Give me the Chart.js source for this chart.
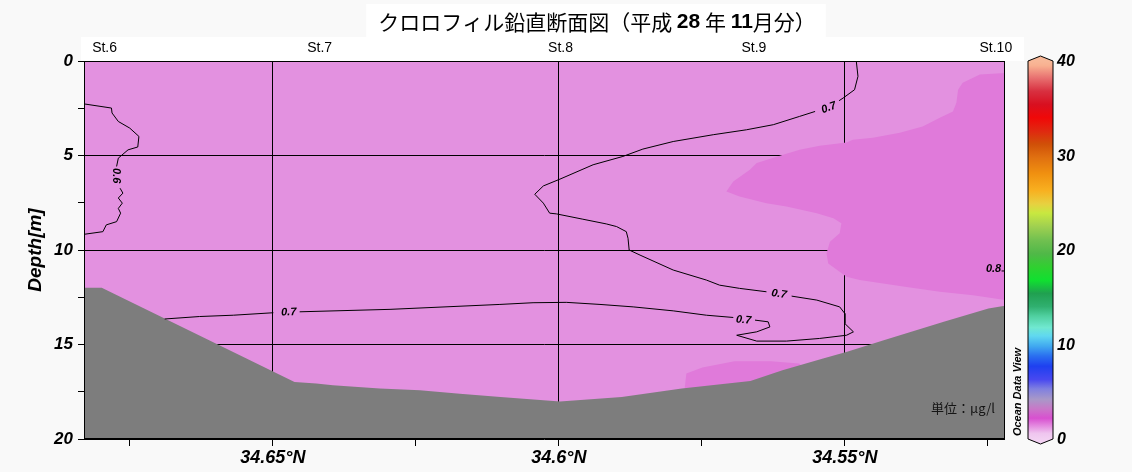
<!DOCTYPE html>
<html>
<head>
<meta charset="utf-8">
<script src="https://cdn.jsdelivr.net/npm/chart.js@4.4.1/dist/chart.umd.min.js"></script>
<style>
  html, body { margin: 0; padding: 0; background: #f9f9f9; }
</style>
</head>
<body>
<canvas id="chl" width="1132" height="472"></canvas>
<script>
// chlorophyll section St.6 - St.10, latitude vs depth (values in ug/l)
const latMin = 34.522, latMax = 34.683;
const latTicks = [34.525, 34.55, 34.575, 34.6, 34.625, 34.65, 34.675];
const depthTicks = [0, 2.5, 5, 7.5, 10, 12.5, 15, 17.5, 20];
const stationNames = ['St.6', 'St.7', 'St.8', 'St.9', 'St.10'];
const stationLats = [34.6794, 34.6418, 34.5997, 34.5659, 34.5236];

// sea floor [lat, depth]
const bottomLine = [[34.6830, 12.0], [34.6799, 12.0], [34.6462, 16.98], [34.6424, 17.07], [34.6395, 17.15],
  [34.6313, 17.33], [34.6243, 17.42], [34.6173, 17.60], [34.6102, 17.78], [34.5998, 18.01], [34.5890, 17.78],
  [34.5785, 17.33], [34.5665, 16.93], [34.5609, 16.36], [34.5538, 15.74], [34.5496, 15.39], [34.5432, 14.77],
  [34.5327, 13.80], [34.5249, 13.09], [34.5220, 12.95]];

// areas above 0.8
const high08a = [[34.5220, 0.63], [34.5264, 0.72], [34.5294, 1.15], [34.5302, 1.52], [34.5305, 2.21], [34.5311, 2.67],
  [34.5334, 3.00], [34.5364, 3.46], [34.5404, 3.80], [34.5451, 4.06], [34.5486, 4.17], [34.5497, 4.31], [34.5544, 4.49],
  [34.5579, 4.70], [34.5608, 4.96], [34.5654, 5.40], [34.5666, 5.76], [34.5695, 6.38], [34.5707, 6.91], [34.5684, 7.17],
  [34.5637, 7.52], [34.5602, 7.70], [34.5549, 8.05], [34.5520, 8.32], [34.5506, 8.58], [34.5509, 9.11], [34.5526, 9.56],
  [34.5532, 10.17], [34.5529, 10.71], [34.5497, 11.42], [34.5474, 11.59], [34.5392, 11.96], [34.5334, 12.21],
  [34.5276, 12.39], [34.5220, 12.65]];
const high08b = [[34.5781, 17.6], [34.5777, 16.54], [34.5749, 16.22], [34.5693, 15.89], [34.5629, 15.89],
  [34.5580, 16.01], [34.5570, 16.3], [34.5579, 17.5]];

// contour lines
const c06a = [[34.6830, 2.27], [34.6782, 2.49], [34.6781, 2.75], [34.6770, 3.20], [34.6750, 3.55], [34.6734, 3.99],
  [34.6736, 4.55], [34.6753, 4.70], [34.6770, 5.14], [34.6773, 5.58]];
const c06b = [[34.6767, 6.73], [34.6762, 6.99], [34.6770, 7.25], [34.6763, 7.52], [34.6770, 7.80], [34.6766, 8.05],
  [34.6773, 8.50], [34.6791, 8.67], [34.6797, 9.03], [34.6830, 9.17]];
const c07a = [[34.5480, 0], [34.5477, 0.81], [34.5483, 1.52], [34.5503, 1.96], [34.5510, 2.10]];
const c07b = [[34.5552, 2.67], [34.5579, 2.93], [34.5625, 3.37], [34.5672, 3.64], [34.5730, 3.90], [34.5800, 4.26],
  [34.5853, 4.66], [34.5888, 5.05], [34.5940, 5.49], [34.5998, 6.25], [34.6027, 6.61], [34.6042, 7.05], [34.6027, 7.52],
  [34.6016, 8.05], [34.6004, 8.09], [34.5958, 8.37], [34.5917, 8.62], [34.5899, 8.76], [34.5882, 9.03], [34.5879, 9.38],
  [34.5877, 10.0], [34.5858, 10.27], [34.5800, 11.06], [34.5742, 11.59], [34.5719, 11.86], [34.5684, 12.03],
  [34.5637, 12.21]];
const c07c = [[34.5593, 12.44], [34.5549, 12.65], [34.5509, 13.01], [34.5500, 13.36], [34.5500, 13.89], [34.5485, 14.33],
  [34.5497, 14.51], [34.5544, 14.68], [34.5602, 14.82], [34.5654, 14.82], [34.5689, 14.51], [34.5654, 14.33],
  [34.5631, 14.07], [34.5634, 13.80], [34.5657, 13.71]];
const c07d = [[34.5695, 13.57], [34.5742, 13.45], [34.5800, 13.22], [34.5870, 13.01], [34.5928, 12.88], [34.5987, 12.77],
  [34.6045, 12.79], [34.6103, 12.88], [34.6295, 13.14], [34.6453, 13.27]];
const c07e = [[34.6499, 13.32], [34.6569, 13.45], [34.6628, 13.52], [34.6689, 13.65]];
const c08a = [[34.5226, 11.11], [34.5220, 11.11]];

const labelText = ['0.7', '0.7', '0.7', '0.7', '0.6', '0.8'];
const labelLat = [34.5528, 34.5615, 34.5677, 34.6472, 34.6774, 34.5240];
const labelDepth = [2.47, 12.33, 13.71, 13.29, 6.07, 11.0];
const labelAngle = [-20, 8, 4, -2, 90, 0];

// colour bar 0 - 40
const cbValues = [0, 0.6, 1.4, 2.2, 3.2, 4.2, 5.3, 6.3, 7.7, 8.8, 9.8, 10.9, 11.8, 13.0, 14.0, 15.4, 16.8, 18.2, 19.6,
  21.0, 22.5, 23.9, 24.9, 26.3, 28.1, 29.8, 31.2, 32.6, 34.0, 35.4, 36.8, 38.2, 39.5, 40];
const cbColors = ['#f2d0f2', '#efc5ef', '#e48ae0', '#d850d0', '#c878c8', '#a898c8', '#8080e0', '#4848f0', '#1e40f0',
  '#2a70f0', '#40a8f0', '#60d8f0', '#70e8d0', '#50d0a0', '#30b070', '#20a050', '#10e030', '#30d030', '#50b848',
  '#70c050', '#a0d050', '#c8e840', '#e8d040', '#f8b020', '#f09010', '#e07010', '#d05008', '#e02810', '#f00808',
  '#d81020', '#d83040', '#e87070', '#f8b090', '#f8b898'];
const cbTicks = [0, 10, 20, 30, 40];

const fieldColor = '#e391e0';
const highColor = '#e07ada';
const groundColor = '#7d7d7d';
const latin = '"Liberation Sans", Arial, sans-serif';
const jp = '"Noto Sans CJK JP", sans-serif';

function pts(arr) { return arr.map(p => ({ x: p[0], y: p[1] })); }
function isMajorLat(v) { return Math.abs(v * 20 - Math.round(v * 20)) < 1e-6; }

const contours = [c06a, c06b, c07a, c07b, c07c, c07d, c07e, c08a];
const datasets = contours.map(c => ({
  data: pts(c), borderColor: '#000', borderWidth: 1, pointRadius: 0, fill: false, order: 1
}));
datasets.push({ data: pts(bottomLine), borderColor: 'rgba(0,0,0,0)', borderWidth: 0, backgroundColor: groundColor,
  pointRadius: 0, fill: { value: 20 }, order: 2 });
datasets.push({ data: pts(high08a), borderColor: 'rgba(0,0,0,0)', borderWidth: 0, backgroundColor: highColor,
  pointRadius: 0, fill: 'shape', order: 3 });
datasets.push({ data: pts(high08b), borderColor: 'rgba(0,0,0,0)', borderWidth: 0, backgroundColor: highColor,
  pointRadius: 0, fill: 'shape', order: 3 });

const decor = {
  id: 'decor',
  beforeDraw(chart) {
    const { ctx, chartArea: a } = chart;
    ctx.save();
    ctx.fillStyle = '#f9f9f9';
    ctx.fillRect(0, 0, chart.width, chart.height);
    ctx.fillStyle = '#ffffff';
    ctx.fillRect(a.left - 3, 37, a.right - a.left + 22, a.top - 37);
    ctx.fillStyle = fieldColor;
    ctx.fillRect(a.left, a.top, a.right - a.left, a.bottom - a.top);
    ctx.restore();
  },
  afterDraw(chart) {
    const { ctx, chartArea: a } = chart;
    const sx = chart.scales.x, sy = chart.scales.y;
    ctx.save();

    // frame
    ctx.strokeStyle = '#000';
    ctx.lineWidth = 1;
    ctx.strokeRect(Math.round(a.left) + 0.5, Math.round(a.top) + 0.5,
      Math.round(a.right - a.left) - 1, Math.round(a.bottom - a.top) - 1);

    // contour labels
    ctx.fillStyle = '#000';
    ctx.font = 'italic bold 11px ' + latin;
    ctx.textAlign = 'center';
    ctx.textBaseline = 'middle';
    labelText.forEach((t, i) => {
      ctx.save();
      ctx.translate(sx.getPixelForValue(labelLat[i]), sy.getPixelForValue(labelDepth[i]));
      ctx.rotate(labelAngle[i] * Math.PI / 180);
      ctx.fillText(t, 0, 0);
      ctx.restore();
    });

    // title
    const parts = [['クロロフィル鉛直断面図（平成 ', '21px ' + jp], ['28', 'bold 21px ' + latin],
      [' 年 ', '21px ' + jp], ['11', 'bold 21px ' + latin], ['月分）', '21px ' + jp]];
    let tw = 0;
    parts.forEach(p => { ctx.font = p[1]; tw += ctx.measureText(p[0]).width; });
    let tx = 597 - tw / 2;
    ctx.fillStyle = '#ffffff';
    ctx.fillRect(tx - 12, 4, tw + 22, 33);
    ctx.fillStyle = '#000';
    ctx.textAlign = 'left';
    parts.forEach(p => {
      ctx.font = p[1];
      ctx.fillText(p[0], tx, 22);
      tx += ctx.measureText(p[0]).width;
    });

    // colour bar
    const x0 = 1028, x1 = 1053, xm = (x0 + x1) / 2;
    const top = a.top, bot = a.bottom;
    const g = ctx.createLinearGradient(0, bot, 0, top);
    cbValues.forEach((v, i) => g.addColorStop(v / 40, cbColors[i]));
    ctx.beginPath();
    ctx.moveTo(x0, bot);
    ctx.lineTo(x0, top);
    ctx.lineTo(xm, top - 5);
    ctx.lineTo(x1, top);
    ctx.lineTo(x1, bot);
    ctx.lineTo(xm, bot + 5);
    ctx.closePath();
    ctx.fillStyle = g;
    ctx.fill();
    ctx.strokeStyle = '#000';
    ctx.stroke();
    ctx.fillStyle = '#000';
    ctx.font = 'italic bold 16px ' + latin;
    ctx.textAlign = 'left';
    cbTicks.forEach(v => {
      ctx.fillText(String(v), 1057, bot - v / 40 * (bot - top) + 1);
    });

    ctx.save();
    ctx.translate(1018, 392);
    ctx.rotate(-Math.PI / 2);
    ctx.font = 'italic bold 11px ' + latin;
    ctx.textAlign = 'center';
    ctx.fillText('Ocean Data View', 0, 0);
    ctx.restore();

    ctx.font = '13px ' + jp;
    ctx.textAlign = 'right';
    ctx.fillStyle = '#151515';
    ctx.fillText('単位：μg/l', 995, 408);
    ctx.restore();
  }
};

new Chart(document.getElementById('chl'), {
  type: 'line',
  data: { datasets },
  plugins: [decor],
  options: {
    responsive: false,
    animation: false,
    layout: { padding: { left: 0, right: 127, top: 0, bottom: 0 } },
    plugins: { legend: { display: false }, tooltip: { enabled: false } },
    elements: { line: { tension: 0 } },
    scales: {
      x: {
        type: 'linear', position: 'bottom', reverse: true, min: latMin, max: latMax, z: 1,
        afterBuildTicks: s => { s.ticks = latTicks.map(v => ({ value: v })); },
        afterFit: s => { s.height = 33; },
        border: { display: false },
        grid: {
          color: c => (c.tick && isMajorLat(c.tick.value)) ? '#000' : 'rgba(0,0,0,0)',
          tickColor: '#000', tickLength: 7, lineWidth: 1
        },
        ticks: {
          autoSkip: false, maxRotation: 0, padding: 1, color: '#000',
          font: { family: latin, size: 18, style: 'italic', weight: 'bold' },
          callback: v => isMajorLat(v) ? String(Math.round(v * 100) / 100) + '°N' : ''
        }
      },
      x2: {
        type: 'linear', position: 'top', reverse: true, min: latMin, max: latMax,
        afterBuildTicks: s => { s.ticks = stationLats.map(v => ({ value: v })); },
        afterFit: s => { s.height = 61; },
        border: { display: false },
        grid: { display: false, drawTicks: false },
        ticks: {
          autoSkip: false, maxRotation: 0, padding: 4, color: '#000',
          font: { family: latin, size: 14 },
          callback: (v, i) => stationNames[i]
        }
      },
      y: {
        type: 'linear', position: 'left', reverse: true, min: 0, max: 20, z: 1,
        afterBuildTicks: s => { s.ticks = depthTicks.map(v => ({ value: v })); },
        afterFit: s => { s.width = 84; },
        border: { display: false },
        grid: {
          color: c => (c.tick && c.tick.value % 5 === 0) ? '#000' : 'rgba(0,0,0,0)',
          tickColor: '#000', tickLength: 6, lineWidth: 1
        },
        title: {
          display: true, text: 'Depth[m]', color: '#000', padding: { top: 24, bottom: 0 },
          font: { family: latin, size: 19, style: 'italic', weight: 'bold' }
        },
        ticks: {
          padding: 5, color: '#000',
          font: { family: latin, size: 17, style: 'italic', weight: 'bold' },
          callback: v => (v % 5 === 0) ? String(v) : ''
        }
      }
    }
  }
});
</script>
</body>
</html>
